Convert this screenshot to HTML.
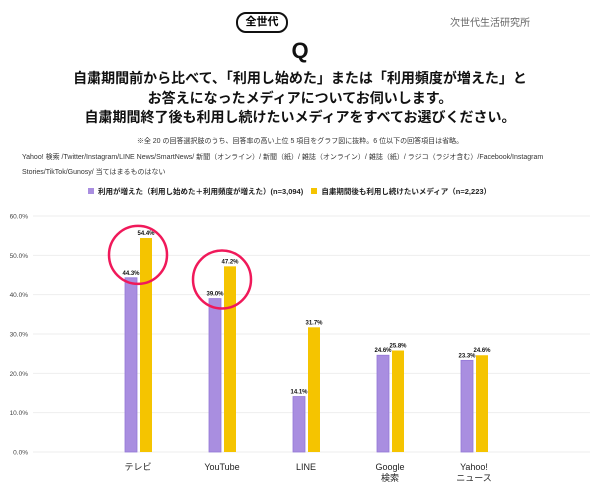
<!DOCTYPE html>
<html><head><meta charset="utf-8"><style>
body{margin:0;width:600px;height:494px;background:#fff;font-family:"Liberation Sans","Noto Sans CJK JP",sans-serif;overflow:hidden;position:relative}
.t{position:absolute;left:0;width:600px;text-align:center;color:#111}
</style></head><body>
<div style="position:absolute;left:236px;top:12px;width:48px;height:17px;border:2px solid #111;border-radius:10px;font-size:11px;font-weight:bold;text-align:center;line-height:17px">全世代</div>
<div style="position:absolute;left:450px;top:14px;font-size:10px;color:#666">次世代生活研究所</div>
<div class="t" style="top:38px;font-size:22px;font-weight:bold">Q</div>
<div class="t" style="top:69px;font-size:14px;font-weight:bold;line-height:19.5px">自粛期間前から比べて、「利用し始めた」または「利用頻度が増えた」と<br>お答えになったメディアについてお伺いします。<br>自粛期間終了後も利用し続けたいメディアをすべてお選びください。</div>
<div class="t" style="top:136px;font-size:7px;color:#333">※全 20 の回答選択肢のうち、回答率の高い上位 5 項目をグラフ図に抜粋。6 位以下の回答項目は省略。</div>
<div style="position:absolute;left:22px;top:150px;width:560px;font-size:7px;line-height:15px;color:#333">Yahoo! 検索 /Twitter/Instagram/LINE News/SmartNews/ 新聞（オンライン）/ 新聞（紙）/ 雑誌（オンライン）/ 雑誌（紙）/ ラジコ（ラジオ含む）/Facebook/Instagram Stories/TikTok/Gunosy/ 当てはまるものはない</div>
<div style="position:absolute;left:88px;top:186px;font-size:7.5px;font-weight:bold;color:#222;white-space:nowrap">
<span><span style="display:inline-block;width:6px;height:6px;background:#a98ee0;margin-right:4px"></span>利用が増えた（利用し始めた＋利用頻度が増えた）(n=3,094)</span>
<span style="margin-left:6px"><span style="display:inline-block;width:6px;height:6px;background:#f5c400;margin-right:4px"></span>自粛期間後も利用し続けたいメディア（n=2,223）</span></div>
<svg id="c" width="600" height="494" style="position:absolute;left:0;top:0"></svg>
<script>
const categories=["テレビ","YouTube","LINE","Google\n検索","Yahoo!\nニュース"];
const increased=[44.3,39.0,14.1,24.6,23.3];
const continueUse=[54.4,47.2,31.7,25.8,24.6];
const ticks=[0,10,20,30,40,50,60];
const highlighted=[0,1];
const svg=document.getElementById('c');const NS='http://www.w3.org/2000/svg';
const y=v=>452-v*(236/60);const x=i=>138+i*84;
function mk(t,a,txt){const e=document.createElementNS(NS,t);for(const k in a)e.setAttribute(k,a[k]);if(txt!=null)e.textContent=txt;svg.appendChild(e);return e;}
ticks.forEach(t=>{
const g=mk('line',{x1:33,x2:590,y1:y(t),y2:y(t),stroke:'#eee','stroke-width':1});


const l=mk('text',{x:28,y:y(t)+2.5,'font-size':6.5,fill:'#444','text-anchor':'end'},t.toFixed(1)+'%');


});
categories.forEach((c,i)=>{
const a=mk('rect',{x:x(i)-13,y:y(increased[i]),width:12,height:452-y(increased[i]),fill:'#a98ee0',stroke:'#9478d8','stroke-width':0.8});


const b=mk('rect',{x:x(i)+2,y:y(continueUse[i]),width:12,height:452-y(continueUse[i]),fill:'#f5c400'});


const la=mk('text',{x:x(i)-7,y:y(increased[i])-3,'font-size':6,'font-weight':'bold',fill:'#111','text-anchor':'middle'},increased[i].toFixed(1)+'%');


const lb=mk('text',{x:x(i)+8,y:y(continueUse[i])-3,'font-size':6,'font-weight':'bold',fill:'#111','text-anchor':'middle'},continueUse[i].toFixed(1)+'%');


c.split('\n').forEach((s,j)=>{
const t=mk('text',{x:x(i),y:470+j*11,'font-size':9,fill:'#222','text-anchor':'middle'},s);


});
});
highlighted.forEach(i=>{
const cy=(y(increased[i])+y(continueUse[i]))/2-3;
const o=mk('circle',{cx:x(i),cy:cy,r:29,fill:'none',stroke:'#f0195a','stroke-width':2.5});


});
</script>
</body></html>
